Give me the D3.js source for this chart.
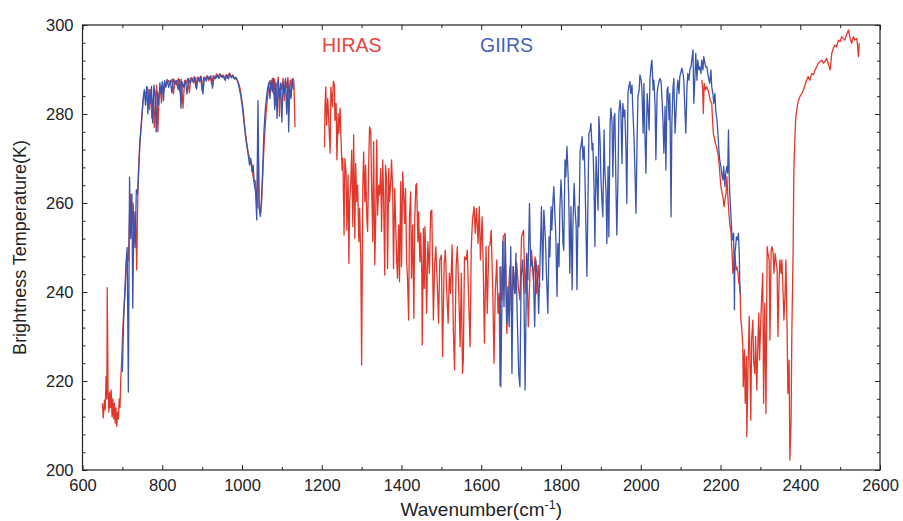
<!DOCTYPE html>
<html>
<head>
<meta charset="utf-8">
<script src="https://cdn.jsdelivr.net/npm/d3@7"></script>
<style>
  body { margin: 0; background: #fff; }
  text { font-family: "Liberation Sans", Arial, Helvetica, sans-serif; }
</style>
</head>
<body>
<svg id="viz" width="903" height="521"></svg>
<script>
// spectra, [wavenumber, brightness temperature]
const hirasLW = [[650,215.0],[652,211.7],[655,215.7],[657,213.5],[659,221],[661,216],[662,241],[664,218],[666,213],[668,217.5],[670,214],[672,218],[674,212],[676,216],[678,211.5],[680,215],[682,210.5],[684,214],[686,209.8],[688,213],[690,211.5],[692,216],[694,214],[696,220.5],[698,224],[701,231.5],[704,236.6],[707,240],[711,248.8],[715,247],[718,258],[721,262],[724,255],[727,260],[730,252],[733,258],[736,245],[738,258],[740,266.7],[744,274],[748,278],[752,283],[756,285],[760,284.5],[763,286],[766,283],[768,281],[771,285.5],[774,279],[777,283.5],[780,277],[783,284],[786,286.5],[789,276],[792,284],[795,286],[798,282.5],[801,287],[804,285],[807,287],[810,286.5],[815,287.5],[820,286.8],[825,287.8],[828,284.5],[832,287.6],[836,286.5],[840,288],[844,285],[848,287.8],[852,281.3],[856,287.5],[860,286.8],[864,288],[868,284.8],[872,288.2],[876,287.5],[880,288.4],[884,286],[888,288.3],[892,287.7],[896,288.5],[900,285.2],[904,288.2],[908,287.8],[912,288.6],[916,287.5],[920,288.5],[924,286.7],[928,288.7],[932,288],[936,289],[940,288.2],[944,289.1],[948,288.3],[952,288.8],[956,287.8],[960,288.9],[964,288],[968,289.2],[972,288.4],[976,288.8],[980,288],[984,288.3],[988,287.6],[992,286.8],[995,285.8],[999,283.5],[1003,281],[1006,278],[1009,275.5],[1012,273.4],[1015,271.5],[1018,270.4],[1021,269.5],[1024,269],[1027,266.5],[1030,264.8],[1033,265],[1036,262],[1038,259],[1040,276],[1043,259],[1046,257.5],[1049,260],[1052,266],[1055,272.5],[1058,277],[1061,281],[1064,283.5],[1067,286.5],[1070,287.5],[1073,286],[1076,288],[1079,284.5],[1082,287.8],[1085,282],[1088,286.5],[1091,288.3],[1094,279.5],[1097,287],[1100,285.5],[1103,288],[1106,283],[1109,287.5],[1112,286],[1115,288.2],[1118,284],[1121,287.6],[1124,286.5],[1127,288],[1130,287.5],[1133,277]];

const hirasMW = [[1207,272.5],[1208,281.3],[1210,286.1],[1212,277.5],[1215,283.5],[1218,277.5],[1221,271.2],[1223,286.1],[1227,281.6],[1229,287.4],[1232,286.5],[1233,278.6],[1236,282.4],[1238,269.7],[1241,280.1],[1243,275.7],[1246,281.3],[1248,275.3],[1251,267.4],[1253,270],[1256,252.8],[1258,270],[1261,267],[1263,253.9],[1266,266.3],[1268,246.4],[1270,260.3],[1273,264.8],[1275,271.9],[1278,254.7],[1280,275.3],[1283,252.1],[1285,268.9],[1288,260.3],[1290,264],[1293,251.3],[1295,258.8],[1298,246.8],[1300,223.6],[1303,263.7],[1305,271.5],[1308,260.3],[1310,268.5],[1313,256.6],[1315,253.6],[1318,270],[1320,277.1],[1323,276],[1325,264],[1328,251.3],[1330,273.8],[1333,246.1],[1335,255.1],[1338,274.2],[1340,257.3],[1343,264],[1345,261.8],[1348,267.8],[1350,253.6],[1353,269.7],[1355,261.8],[1358,243.8],[1360,268.5],[1363,264.8],[1365,245.3],[1368,267.8],[1370,260.3],[1373,264.8],[1375,269.7],[1378,262.5],[1380,245.3],[1383,263.3],[1385,256.6],[1388,246.8],[1390,243.1],[1393,255.1],[1395,242.3],[1398,264.8],[1400,245.7],[1403,267],[1405,262.5],[1408,255.4],[1410,263.3],[1413,246.8],[1415,243.1],[1418,233.7],[1420,256.9],[1423,262.5],[1425,243.1],[1428,255.1],[1431,234.1],[1433,255.8],[1436,264],[1438,264.4],[1441,251.3],[1443,258],[1446,246.8],[1448,253.2],[1451,243.8],[1452,228.1],[1455,254.3],[1457,240.8],[1459,254.7],[1463,235.2],[1466,251.3],[1470,244.2],[1473,258],[1476,258.4],[1480,233.7],[1483,245.7],[1486,250.2],[1490,241.2],[1493,233],[1496,247.2],[1500,248.3],[1503,225.5],[1507,246.4],[1510,249.4],[1513,241.2],[1517,233],[1520,244.2],[1523,239.7],[1527,250.6],[1530,231.5],[1533,222.5],[1537,245.7],[1540,250.2],[1543,242],[1547,227.7],[1550,244.2],[1553,221.7],[1555,224.7],[1558,247.9],[1562,247.2],[1565,249.4],[1568,239.7],[1572,227.7],[1575,250.2],[1578,256.2],[1582,259.2],[1585,253.2],[1588,258.8],[1592,250.9],[1595,259.2],[1598,247.2],[1602,256.9],[1605,245.7],[1608,228.5],[1612,250.2],[1615,235.2],[1619,250.2],[1622,250.6],[1625,253.9],[1629,239.7],[1632,224],[1635,239.7],[1639,247.2],[1642,235.2],[1645,239.7],[1647,219],[1649,245.7],[1652,238.2],[1655,252.4],[1660,253.2],[1664,230.7],[1668,239.7],[1672,245.7],[1676,235.2],[1680,245.7],[1685,239.7],[1689,246.4],[1693,241.2],[1697,238.2],[1701,252.4],[1706,253.9],[1710,239.7],[1714,247.2],[1718,232.2],[1722,244.2],[1726,249.4],[1731,242.7],[1735,247.9],[1739,239.7],[1743,246],[1747,241]];

const hirasSW = [[2153,287.6],[2155,286.1],[2157,280.1],[2159,286.9],[2162,285.4],[2165,286.1],[2170,285],[2174,283.1],[2178,282.4],[2180,278.7],[2182,275.6],[2185,274.5],[2187,273.4],[2190,272.7],[2193,271.2],[2195,270.4],[2199,265.9],[2201,263.7],[2204,262.2],[2206,261.4],[2209,259.2],[2211,260.7],[2214,262.2],[2216,265.9],[2219,260.7],[2221,257.7],[2224,254.7],[2226,253.9],[2229,248.7],[2231,244.2],[2234,245.7],[2236,248.7],[2239,244.9],[2241,245.7],[2244,244.2],[2246,242],[2249,241.2],[2251,233.7],[2253,232.2],[2256,227.7],[2257,218.7],[2260,227],[2262,215],[2265,225.5],[2266,207.5],[2269,222.5],[2272,234.5],[2274,224],[2276,211.2],[2278,229.2],[2281,233.7],[2283,224.7],[2286,221.7],[2288,230],[2291,218],[2293,226.2],[2296,235.2],[2298,224.7],[2301,233.7],[2303,238.2],[2306,244.2],[2308,215],[2311,237.5],[2314,212.7],[2317,250.2],[2319,248.7],[2322,247.2],[2324,229.2],[2327,249.4],[2329,250.2],[2332,248.7],[2334,244.2],[2337,248.7],[2339,247.2],[2342,244.9],[2344,230],[2347,242.7],[2349,247.2],[2352,244.2],[2354,247.2],[2357,239.7],[2359,233.7],[2362,239.7],[2364,247.2],[2367,231.5],[2369,217.2],[2372,224.7],[2374,202.2],[2377,211.2],[2379,231.5],[2382,248.7],[2384,267.4],[2387,275.6],[2389,279.4],[2393,282],[2396,283.1],[2399,283.9],[2404,284.6],[2408,285.4],[2412,286.5],[2416,287.6],[2420,288.4],[2424,287.6],[2429,289.1],[2433,288.8],[2437,289.9],[2441,290.6],[2445,291.4],[2450,291.8],[2454,292.1],[2458,291.4],[2462,291.8],[2466,292.5],[2470,291.4],[2475,289.9],[2479,293.6],[2483,294.8],[2487,295.5],[2491,295.1],[2496,296.6],[2500,296.3],[2504,297.4],[2508,297],[2512,296.6],[2516,297.8],[2521,298.9],[2525,297],[2529,295.9],[2533,297.4],[2537,296.6],[2542,297],[2546,292.9],[2548,295.9]];

const giirsLW = [[700,222],[703,233],[706,240],[709,246],[712,250],[715,217.5],[718,265.8],[721,252],[724,262],[726,236.4],[729,258],[732,250],[735,263],[738,262],[741,267],[744,273.5],[748,278.5],[752,283.5],[755,285.5],[758,282],[761,286.2],[764,280],[767,285.5],[770,282.5],[773,286.2],[776,278],[779,286.5],[782,284],[785,276],[788,285],[791,282],[794,287],[797,284.5],[800,287.3],[803,283],[806,287.5],[809,286],[812,287.8],[816,286],[820,287.6],[824,284.8],[828,287.9],[832,286.7],[836,287.5],[840,285.5],[844,287.8],[847,281.3],[850,287.2],[854,286],[858,287.6],[862,284.5],[866,288],[870,286.8],[874,288.1],[878,287],[882,288.3],[886,285.6],[890,288.2],[894,287.2],[898,288.4],[902,284.5],[906,288.3],[910,287.4],[914,288.5],[918,287.8],[922,288.6],[926,285.8],[930,288.4],[934,287.9],[938,288.8],[942,288],[946,288.9],[950,288.2],[954,288.6],[958,287.5],[962,288.8],[966,287.9],[970,289],[974,288.1],[978,288.6],[982,287.8],[986,288.1],[990,287],[993,285.8],[997,284],[1001,281.5],[1004,279],[1007,276.5],[1010,274],[1013,272.5],[1016,270.5],[1019,268.5],[1022,270],[1025,267],[1028,268.5],[1031,264],[1034,262.5],[1037,256.2],[1040,283],[1043,259.2],[1046,257],[1049,261],[1052,268],[1055,276],[1058,280.5],[1061,283.5],[1064,285.5],[1067,287],[1070,283.5],[1073,287.5],[1076,285],[1079,288],[1082,281],[1085,287],[1088,279],[1091,287.5],[1094,283.5],[1097,286.8],[1100,278.2],[1103,287.2],[1106,284.5],[1109,288],[1112,280],[1115,287.5],[1117,276],[1120,286.5],[1123,283.5],[1126,287.8],[1129,285.5]];

const giirsMW = [[1647,245.7],[1649,218.7],[1654,251.3],[1657,236.7],[1660,252.4],[1664,233],[1667,241.2],[1670,232.2],[1674,250.2],[1677,221.7],[1680,245.7],[1684,239.7],[1687,248.7],[1690,235.2],[1694,221.7],[1697,218.7],[1700,243.5],[1704,247.2],[1707,239.7],[1710,218],[1714,248.7],[1717,242.7],[1721,259.9],[1724,245.7],[1727,247.2],[1731,243.5],[1734,232.2],[1737,247.2],[1741,243.5],[1744,235.2],[1747,245.7],[1751,259.2],[1754,242.7],[1757,258.4],[1761,251.7],[1764,242.7],[1767,235.2],[1770,252.4],[1772,247.9],[1775,259.2],[1777,253.9],[1780,260.7],[1782,263.7],[1785,256.9],[1787,252.4],[1790,239],[1792,250.9],[1795,245.7],[1797,258.4],[1800,265.2],[1802,261.4],[1805,250.9],[1807,249.4],[1810,269.7],[1812,265.9],[1815,272.7],[1818,265.9],[1820,258.4],[1822,244.2],[1825,259.2],[1828,240.5],[1830,255.4],[1833,264.4],[1835,259.2],[1838,254.7],[1840,240.5],[1843,259.2],[1845,254.7],[1848,271.9],[1850,272.7],[1853,274.9],[1855,269.7],[1858,272.7],[1860,265.9],[1863,252.4],[1865,243.5],[1868,262.9],[1870,275.7],[1873,276.4],[1875,277.9],[1878,271.9],[1880,273.4],[1883,262.9],[1885,250.2],[1888,270.4],[1890,265.9],[1893,258.4],[1895,279.4],[1898,274.2],[1900,265.9],[1903,259.9],[1905,256.9],[1908,276.4],[1910,267.4],[1913,262.2],[1915,250.9],[1918,268.2],[1920,252.4],[1923,277.1],[1925,281.3],[1928,278.3],[1930,265.9],[1933,279.4],[1935,280.1],[1938,262.9],[1940,252.8],[1943,265.9],[1945,280.1],[1948,283.1],[1950,280.9],[1953,268.9],[1955,282.4],[1958,279.4],[1960,280.9],[1963,271.9],[1965,259.9],[1968,284.6],[1970,286.1],[1973,287.3],[1975,284.6],[1978,286.5],[1980,281.3],[1983,274.9],[1986,265.2],[1988,257.7],[1991,274.9],[1993,283.9],[1996,285.4],[1998,288.8],[2001,287.6],[2003,285.4],[2006,275.7],[2008,286.9],[2011,273.4],[2013,266.7],[2016,284.6],[2018,282],[2021,276.4],[2023,287.6],[2026,291],[2028,292.1],[2031,285.4],[2033,287.6],[2036,281.7],[2038,269.7],[2041,284.6],[2043,286.1],[2046,287.3],[2048,288],[2051,287.3],[2053,283.9],[2056,277.9],[2058,271.2],[2061,281.7],[2063,267.4],[2066,285.4],[2068,286.1],[2071,278.7],[2073,284.6],[2076,256.9],[2078,277.9],[2081,286.1],[2083,288],[2086,275.7],[2088,279.4],[2091,285.4],[2093,287.6],[2096,284.6],[2098,288.4],[2101,289.5],[2103,290.3],[2106,289.1],[2108,287.6],[2111,280.2],[2113,275.7],[2116,286.1],[2118,289.1],[2121,287.6],[2123,289.9],[2126,290.6],[2128,292.1],[2131,294.4],[2133,282.4],[2136,288.4],[2138,293.6],[2141,287.6],[2143,292.1],[2146,289.9],[2148,290.6],[2151,289.1],[2153,292.1],[2156,289.9],[2158,292.9],[2161,291.4],[2163,290.6],[2166,290.6],[2168,289.1],[2171,287.6],[2173,286.9],[2176,289.9],[2178,286.1],[2181,284.6],[2183,282.4],[2186,284.6],[2188,280.9],[2191,278.7],[2193,276.4],[2196,271.9],[2198,269.7],[2201,268.2],[2203,266.7],[2206,265.2],[2208,268.2],[2211,263.7],[2213,266.7],[2216,268.2],[2218,266.7],[2220,276.4],[2222,265.2],[2224,260.7],[2225,259.2],[2228,253.9],[2230,251.7],[2233,253.2],[2235,236],[2236,248.7],[2238,250.2],[2240,252.4],[2243,251.7],[2245,253.2],[2247,248.7],[2249,239.7]];

const xTickLabels = [600, 800, 1000, 1200, 1400, 1600, 1800, 2000, 2200, 2400, 2600];
const xMinorTicks = [700, 900, 1100, 1300, 1500, 1700, 1900, 2100, 2300, 2500];
const yTickLabels = [200, 220, 240, 260, 280, 300];
const yMinorTicks = [204, 208, 212, 216, 224, 228, 232, 236, 244, 248, 252, 256, 264, 268, 272, 276, 284, 288, 292, 296];

const red = "#e2382b", blue = "#3a55ae";

const svg = d3.select("#viz");
const margin = {top: 25, right: 23, bottom: 51, left: 82.5};
const W = 903, H = 521;
const width = W - margin.left - margin.right;
const height = H - margin.top - margin.bottom;

const x = d3.scaleLinear().domain([600, 2600]).range([margin.left, margin.left + width]);
const y = d3.scaleLinear().domain([200, 300]).range([margin.top + height, margin.top]);

const g = svg.append("g");

const line = d3.line().x(d => x(d[0])).y(d => y(d[1]));

[hirasLW, hirasMW, hirasSW].forEach(s => {
    g.append("path").datum(s).attr("d", line)
        .attr("fill", "none").attr("stroke", red).attr("stroke-width", 1.3)
        .attr("stroke-linejoin", "round");
});
[giirsLW, giirsMW].forEach(s => {
    g.append("path").datum(s).attr("d", line)
        .attr("fill", "none").attr("stroke", blue).attr("stroke-width", 1.3)
        .attr("stroke-linejoin", "round");
});

// frame with inward ticks on all sides
const x0 = x(600), x1 = x(2600), y0 = y(200), y1 = y(300);
svg.append("g").call(d3.axisBottom(x).tickValues(xTickLabels).tickSize(-5).tickPadding(9).tickFormat(d3.format("d")))
    .attr("transform", `translate(0,${y0})`).call(a => a.select(".domain").remove());
svg.append("g").call(d3.axisBottom(x).tickValues(xMinorTicks).tickSize(-3).tickFormat(""))
    .attr("transform", `translate(0,${y0})`).call(a => a.select(".domain").remove());
svg.append("g").call(d3.axisTop(x).tickValues(xTickLabels).tickSize(-5).tickFormat(""))
    .attr("transform", `translate(0,${y1})`).call(a => a.select(".domain").remove());
svg.append("g").call(d3.axisTop(x).tickValues(xMinorTicks).tickSize(-3).tickFormat(""))
    .attr("transform", `translate(0,${y1})`).call(a => a.select(".domain").remove());

svg.append("g").call(d3.axisLeft(y).tickValues(yTickLabels).tickSize(-5).tickPadding(9))
    .attr("transform", `translate(${x0},0)`).call(a => a.select(".domain").remove());
svg.append("g").call(d3.axisLeft(y).tickValues(yMinorTicks).tickSize(-3).tickFormat(""))
    .attr("transform", `translate(${x0},0)`).call(a => a.select(".domain").remove());
svg.append("g").call(d3.axisRight(y).tickValues(yTickLabels).tickSize(-5).tickFormat(""))
    .attr("transform", `translate(${x1},0)`).call(a => a.select(".domain").remove());
svg.append("g").call(d3.axisRight(y).tickValues(yMinorTicks).tickSize(-3).tickFormat(""))
    .attr("transform", `translate(${x1},0)`).call(a => a.select(".domain").remove());

svg.selectAll(".tick line").attr("stroke", "#222");
svg.selectAll(".tick text").attr("font-size", 16.5).attr("fill", "#222")
    .attr("font-family", "'Liberation Sans', Arial, sans-serif");

svg.append("rect").attr("x", x0).attr("y", y1).attr("width", x1 - x0).attr("height", y0 - y1)
    .attr("fill", "none").attr("stroke", "#222").attr("stroke-width", 1.2);

// titles
svg.append("text").attr("x", (x0 + x1) / 2).attr("y", 516).attr("text-anchor", "middle")
    .attr("font-size", 19).attr("fill", "#222")
    .call(t => {
        t.append("tspan").text("Wavenumber(cm");
        t.append("tspan").text("-1").attr("font-size", 12.5).attr("dy", -7);
        t.append("tspan").text(")").attr("dy", 7);
    });
svg.append("text").attr("transform", `translate(26,${(y0 + y1) / 2}) rotate(-90)`)
    .attr("text-anchor", "middle").attr("font-size", 18).attr("fill", "#222")
    .text("Brightness Temperature(K)");

// legend labels
svg.append("text").attr("x", 322).attr("y", 52).attr("font-size", 19.5).attr("fill", "#e8453c").text("HIRAS");
svg.append("text").attr("x", 480).attr("y", 52).attr("font-size", 19.5).attr("fill", "#4361b8").text("GIIRS");
</script>
</body>
</html>
